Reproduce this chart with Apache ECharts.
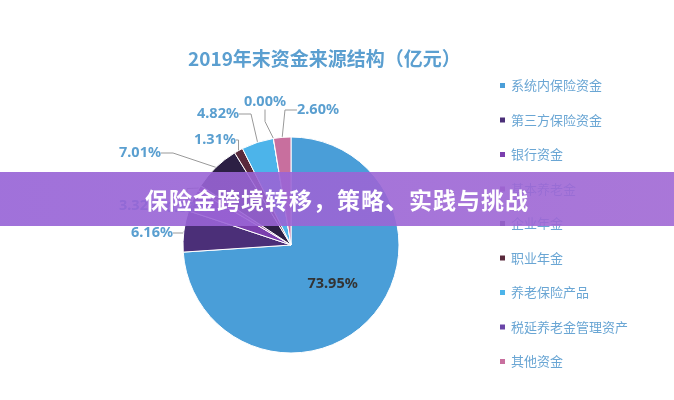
<!DOCTYPE html>
<html><head><meta charset="utf-8">
<script src="https://cdn.jsdelivr.net/npm/echarts@6/dist/echarts.min.js"></script>
<style>
body{margin:0;background:#fff}
#c{width:674px;height:400px}
.band{position:absolute;left:0;top:172px;width:674px;height:54px;background:linear-gradient(90deg,rgba(150,98,214,0.9),rgba(160,104,212,0.9));
color:#fff;font:bold 23px "Noto Sans CJK SC";line-height:54px;text-align:center;letter-spacing:1px}
</style></head><body>
<div id="c"></div>
<div class="band">保险金跨境转移，策略、实践与挑战</div>
<script>
const categories = ['系统内保险资金','第三方保险资金','银行资金','基本养老金','企业年金','职业年金','养老保险产品','税延养老金管理资产','其他资金'];
const values = [73.95, 6.16, 3.32, 0.83, 7.01, 1.31, 4.82, 0.00, 2.60];
const colors = ['#4a9ed8','#4b2f78','#7b3fae','#9a4fa0','#2c1f44','#5a2a3c','#4cb4ea','#6a45a8','#c86f9e'];
// label anchor spots (text centres) for the small slices
const labelSpots = [null, [152,233], [140,206], [187,208], [140,153], [215,140], [218,114], [265,102], [318,110]];

let chart = echarts.init(document.getElementById('c'));
chart.setOption({
    color: colors,
    title: {
        text: '2019年末资金来源结构（亿元）',
        left: 183, top: 44,
        textStyle: {color: '#5b9fd0', fontSize: 19, fontFamily: 'Noto Sans CJK SC', fontWeight: 'bold'}
    },
    legend: {
        orient: 'vertical', left: 493, top: 74, itemGap: 21.5,
        itemWidth: 7, itemHeight: 7, icon: 'rect',
        textStyle: {color: '#6aa6d4', fontSize: 13, fontFamily: 'Noto Sans CJK SC'},
        data: categories
    },
    series: [{
        type: 'pie',
        radius: 108, center: [291, 245],
        startAngle: 90, clockwise: true,
        minShowLabelAngle: 0,
        itemStyle: {borderColor: '#fff', borderWidth: 1},
        label: {
            formatter: p => p.value.toFixed(2) + '%',
            color: '#5a9fd0', fontSize: 14.5, fontWeight: 'bold', fontFamily: 'Noto Sans'
        },
        labelLine: {length: 14, length2: 12, lineStyle: {color: '#999'}},
        labelLayout: p => {
            const s = labelSpots[p.dataIndex];
            if (!s) return {};
            return {x: s[0], y: s[1], align: 'center', verticalAlign: 'middle'};
        },
        data: categories.map((n, i) => {
            let d = {name: n, value: values[i]};
            if (i === 0) d.label = {position: 'inside', color: '#333', fontSize: 14.5};
            return d;
        })
    }]
});
</script></body></html>
